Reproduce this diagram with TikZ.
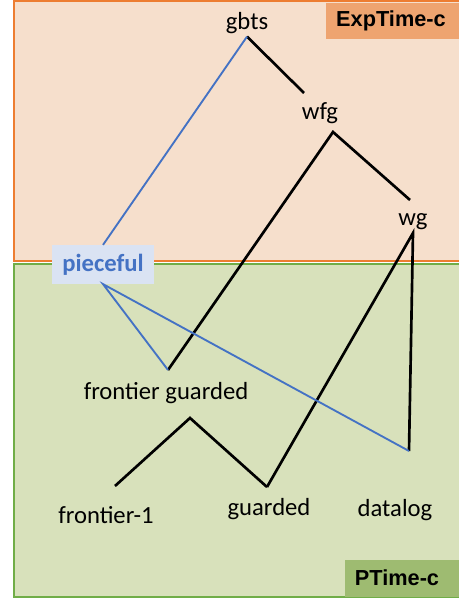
\documentclass[tikz,border=0pt]{standalone}
\usepackage{fontspec}
\setmainfont{Carlito}
\newfontfamily\hdrfont{Liberation Sans}
\definecolor{expfill}{RGB}{246,223,204}
\definecolor{expline}{RGB}{237,125,49}
\definecolor{exptag}{RGB}{238,164,112}
\definecolor{ptfill}{RGB}{216,225,187}
\definecolor{ptline}{RGB}{112,173,71}
\definecolor{pttag}{RGB}{158,187,113}
\definecolor{pcblue}{RGB}{68,114,196}
\definecolor{pcfill}{RGB}{218,227,243}
\tikzset{
  lbl/.style={inner sep=2pt, font=\fontsize{18.5}{22}\selectfont},
  tag/.style={inner sep=0pt, font=\hdrfont\bfseries\fontsize{16.3}{19}\selectfont},
  blk/.style={line width=2pt, black},
  blu/.style={line width=1.4pt, pcblue}
}
\begin{document}
\begin{tikzpicture}[x=0.75pt,y=0.75pt,yscale=-1,xscale=1]
\useasboundingbox (0,0) rectangle (459,599);

% complexity regions
\draw [fill=expfill, draw=expline, line width=0.9pt] (14,1) rectangle (475,261);
\draw [fill=ptfill, draw=ptline, line width=0.9pt] (14,264) rectangle (475,597);
\fill [exptag] (326,3) rectangle (475,39);
\fill [pttag] (345,560) rectangle (475,597);
\node [tag] (exp) at (391,21) {ExpTime-c};
\node [tag] (pt) at (397,578) {PTime-c};

% classes
\node [lbl] (gbts) at (247,23) {gbts};
\node [lbl] (wfg) at (320,113) {wfg};
\node [lbl] (wg) at (413,222) {wg};
\node [lbl, fill=pcfill, text=pcblue, font=\bfseries\fontsize{18.5}{22}\selectfont, minimum width=76pt, minimum height=29pt] (pc) at (103,264.5) {pieceful};
\node [lbl] (fg) at (166,393) {frontier guarded};
\node [lbl] (f1) at (106,515) {frontier-1};
\node [lbl] (g) at (269,509) {guarded};
\node [lbl] (dl) at (395,510) {datalog};

% free ends
\coordinate (wfgL) at (333,132);
\coordinate (fgU) at (168,370);
\coordinate (fgD) at (190,418);
\coordinate (f1U) at (115,486);
\coordinate (gU) at (267,487);
\coordinate (dlU) at (409,451);
\coordinate (wgU) at (410,200);
\coordinate (wfgU) at (304,93);

\draw [blk] (gbts.south) -- (wfgU);
\draw [blk] (fgU) -- (wfgL) -- (wgU);
\draw [blk] (gU) -- (wg.south) -- (dlU);
\draw [blk] (f1U) -- (fgD) -- (gU);

\draw [blu] (pc.north) -- (gbts.south);
\draw [blu] (fgU) -- (pc.south) -- (dlU);

\end{tikzpicture}
\end{document}
